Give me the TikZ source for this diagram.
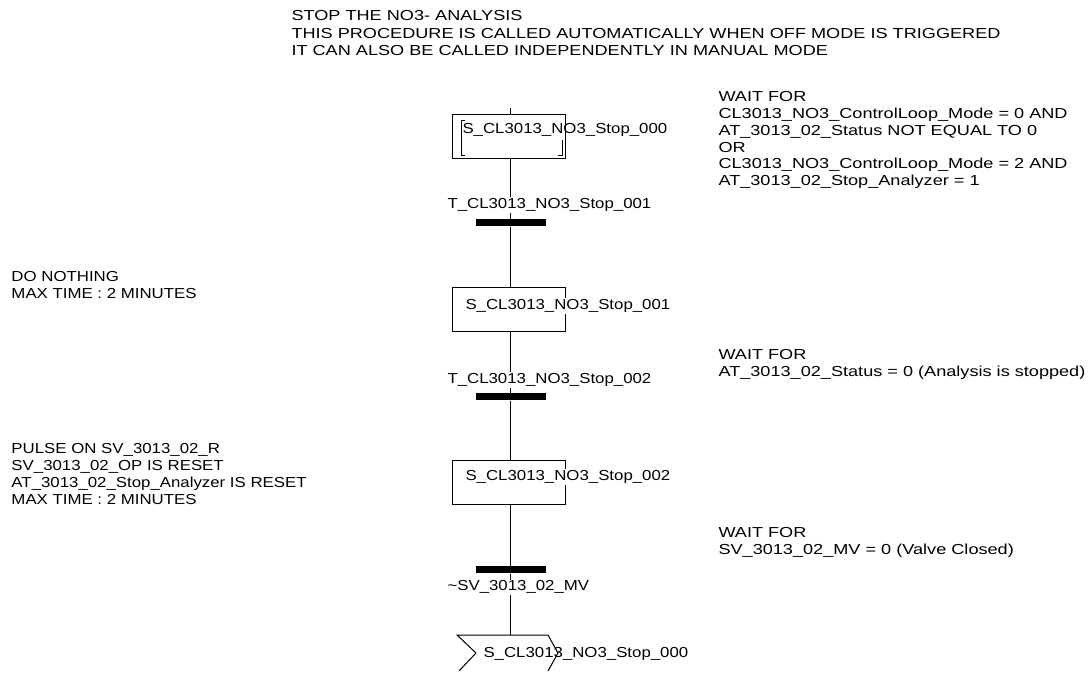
\documentclass[tikz,border=0pt]{standalone}
\usepackage{fontspec}
\setmainfont[FakeStretch=1.16]{Liberation Sans}
\newfontfamily\widefont[FakeStretch=1.25]{Liberation Sans}
\usetikzlibrary{positioning}

\tikzset{
    note/.style={anchor=north west, align=left, inner sep=0pt, font=\fontsize{14.5}{16.8}\selectfont},
    widenote/.style={note, font=\widefont\fontsize{14.5}{16.8}\selectfont},
    tlabel/.style={anchor=west, inner sep=1pt, fill=white, font=\fontsize{14.5}{16.8}\selectfont},
    stepbox/.style={draw, minimum width=113pt, minimum height=44pt, inner sep=0pt},
    transbar/.style={fill=black, minimum width=70pt, minimum height=7pt, inner sep=0pt},
}

\begin{document}
\begin{tikzpicture}[x=1pt, y=-1pt, line width=1pt]
    \useasboundingbox (0,0) rectangle (1092,675);

    % comments
    \node[widenote, font=\widefont\fontsize{14.5}{17.5}\selectfont] (head) at (291, 10) {STOP THE NO3- ANALYSIS\\THIS PROCEDURE IS CALLED AUTOMATICALLY WHEN OFF MODE IS TRIGGERED\\IT CAN ALSO BE CALLED INDEPENDENTLY IN MANUAL MODE};
    \node[widenote] (wait1) at (718, 91) {WAIT FOR\\CL3013\_NO3\_ControlLoop\_Mode = 0 AND\\AT\_3013\_02\_Status NOT EQUAL TO 0\\OR\\CL3013\_NO3\_ControlLoop\_Mode = 2 AND\\AT\_3013\_02\_Stop\_Analyzer = 1};
    \node[note] (act1) at (11, 271) {DO NOTHING\\MAX TIME : 2 MINUTES};
    \node[widenote] (wait2) at (718, 349) {WAIT FOR\\AT\_3013\_02\_Status = 0 (Analysis is stopped)};
    \node[note] (act2) at (11, 443) {PULSE ON SV\_3013\_02\_R\\SV\_3013\_02\_OP IS RESET\\AT\_3013\_02\_Stop\_Analyzer IS RESET\\MAX TIME : 2 MINUTES};
    \node[widenote] (wait3) at (718, 527) {WAIT FOR\\SV\_3013\_02\_MV = 0 (Valve Closed)};

    % steps and transitions
    \coordinate (start) at (510.5, 108);
    \node[stepbox] (S0) at (508.5, 136.5) {};
    \node[transbar] (T1) at (510.5, 222.5) {};
    \node[stepbox] (S1) at (508.5, 309.5) {};
    \node[transbar] (T2) at (510.5, 396.5) {};
    \node[stepbox] (S2) at (508.5, 482) {};
    \node[transbar] (T3) at (510.5, 569.5) {};
    \coordinate (J) at (510.5, 635);

    \draw (start) -- (start |- S0.north);
    \draw (T1 |- S0.south) -- (T1);
    \draw (T1) -- (T1 |- S1.north);
    \draw (T2 |- S1.south) -- (T2);
    \draw (T2) -- (T2 |- S2.north);
    \draw (T3 |- S2.south) -- (T3);
    \draw (T3) -- (J);

    % initial step frame
    \draw (465, 120) -- (461, 120) -- (461, 155) -- (465, 155);
    \draw (562, 140) -- (562, 155) -- (558, 155);

    \node[tlabel, fill=none] (S0name) at (461, 130) {S\_CL3013\_NO3\_Stop\_000};
    \node[tlabel] (S1name) at (464, 306) {S\_CL3013\_NO3\_Stop\_001};
    \node[tlabel] (S2name) at (464, 477) {S\_CL3013\_NO3\_Stop\_002};
    \node[tlabel] (T1name) at (446, 205) {T\_CL3013\_NO3\_Stop\_001};
    \node[tlabel] (T2name) at (446, 380) {T\_CL3013\_NO3\_Stop\_002};
    \node[tlabel] (T3name) at (446, 587) {\~{}SV\_3013\_02\_MV};

    % jump back
    \draw (476, 653) -- (457, 635) -- (548, 635) -- (558, 653) -- (548, 671);
    \draw (476, 653) -- (459, 671);
    \node[tlabel, fill=none] (Jname) at (482, 654) {S\_CL3013\_NO3\_Stop\_000};
\end{tikzpicture}
\end{document}
